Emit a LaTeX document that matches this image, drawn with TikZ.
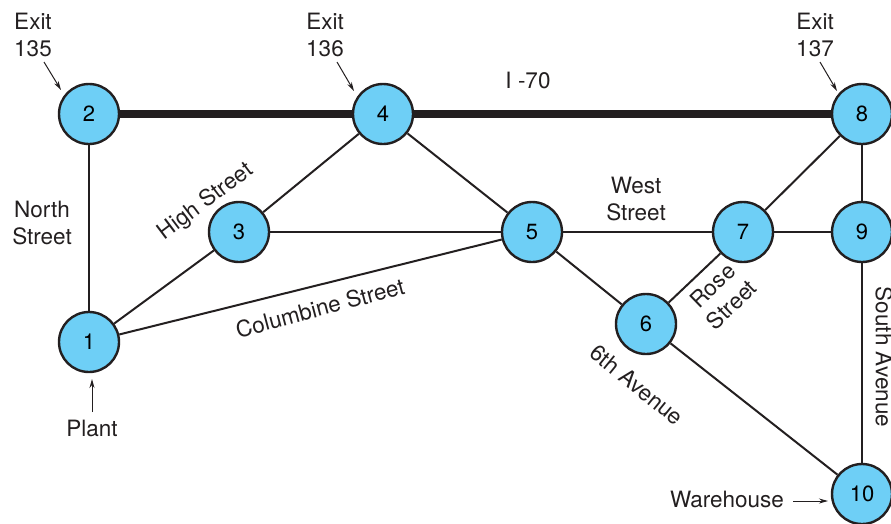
\documentclass[tikz,border=0pt]{standalone}
\usepackage{fontspec}
\setmainfont{TeX Gyre Heros}
\usetikzlibrary{arrows.meta}
\definecolor{nodeblue}{HTML}{6ECFF6}
\definecolor{ink}{HTML}{231F20}
\begin{document}
\begin{tikzpicture}[x=1pt,y=-1pt,
  city/.style={circle,draw=ink,line width=2.4pt,fill=nodeblue,minimum size=60pt,inner sep=0pt,font=\fontsize{22}{26}\selectfont},
  road/.style={draw=ink,line width=2pt},
  highway/.style={draw=ink,line width=8pt},
  lbl/.style={font=\fontsize{22.5}{27}\selectfont,text=ink,inner sep=0pt,align=center},
  pointer/.style={draw=ink,line width=1pt,-{Stealth[length=9pt,width=5pt]}}]
\useasboundingbox (0,0) rectangle (891,523);
\node[city] (n1) at (89,342) {1};
\node[city] (n2) at (89,114) {2};
\node[city] (n3) at (239,232) {3};
\node[city] (n4) at (383,114) {4};
\node[city] (n5) at (532,232) {5};
\node[city] (n6) at (646,324) {6};
\node[city] (n7) at (743,232) {7};
\node[city] (n8) at (862,114) {8};
\node[city] (n9) at (862,232) {9};
\node[city] (n10) at (862,494) {10};
\draw[highway] (n2) -- (n4);
\draw[highway] (n4) -- (n8);
\draw[road] (n1) -- (n2);
\draw[road] (n1) -- (n3);
\draw[road] (n1) -- (n5);
\draw[road] (n3) -- (n4);
\draw[road] (n3) -- (n5);
\draw[road] (n4) -- (n5);
\draw[road] (n5) -- (n7);
\draw[road] (n5) -- (n6);
\draw[road] (n6) -- (n7);
\draw[road] (n7) -- (n8);
\draw[road] (n7) -- (n9);
\draw[road] (n8) -- (n9);
\draw[road] (n9) -- (n10);
\draw[road] (n6) -- (n10);
% labels
\node[lbl] (e135) at (33,35) {Exit\\135};
\node[lbl] (e136) at (325,35) {Exit\\136};
\node[lbl] (e137) at (815,35) {Exit\\137};
\coordinate (a135s) at (44,62); \coordinate (a135e) at (61,90);
\coordinate (a136s) at (337,62); \coordinate (a136e) at (354,91);
\coordinate (a137s) at (820,62); \coordinate (a137e) at (837,91);
\draw[pointer] (a135s) -- (a135e);
\draw[pointer] (a136s) -- (a136e);
\draw[pointer] (a137s) -- (a137e);
\node[lbl] (i70) at (528,80) {I -70};
\node[lbl] (north) at (42,223) {North\\Street};
\node[lbl,rotate=37] (high) at (206,202) {High Street};
\node[lbl,rotate=15] (colum) at (320,308) {Columbine Street};
\node[lbl] (west) at (636,199) {West\\Street};
\node[lbl,rotate=44] (rose) at (722,295) {Rose\\Street};
\node[lbl,rotate=-39] (sixth) at (637,385) {6th Avenue};
\node[lbl,rotate=-90] (south) at (884,357) {South Avenue};
\node[lbl] (plant) at (92,428) {Plant};
\coordinate (plants) at (92,412); \coordinate (plante) at (92,379);
\draw[pointer] (plants) -- (plante);
\node[lbl] (ware) at (727,499) {Warehouse};
\coordinate (wares) at (793,501); \coordinate (waree) at (828,501);
\draw[pointer] (wares) -- (waree);
\end{tikzpicture}
\end{document}
